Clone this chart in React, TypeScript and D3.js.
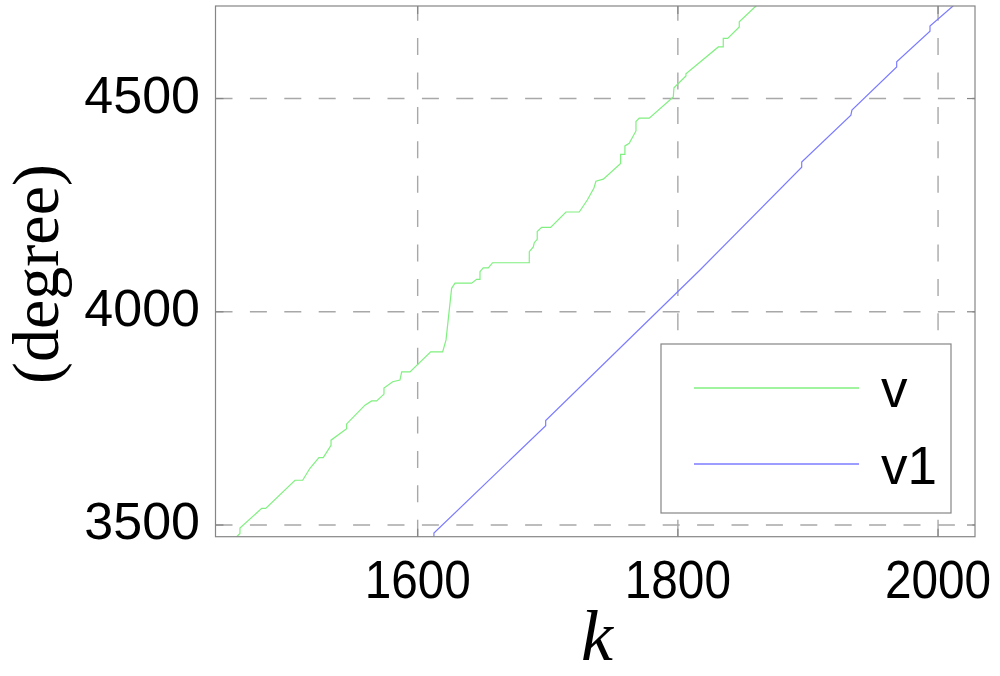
import * as d3 from 'd3';

// tick labels
const xTicks = [1600, 1800, 2000];
const yTicks = [3500, 4000, 4500];

// series "v" (green, stair-stepped)
const vK = [1458, 1463.4, 1463.4, 1480.1, 1483.2, 1505.7, 1511.6, 1517.2, 1524.1, 1527.4, 1533.4, 1533.4, 1545.4, 1545.4,
    1559.5, 1564.6, 1568.5, 1574.1, 1574.1, 1580.8, 1586.4, 1587.7, 1594.1, 1610, 1619.2, 1621.8, 1626.1, 1628.7,
    1641.5, 1645.3, 1647.9, 1647.9, 1650.4, 1654.3, 1657.6, 1685.8, 1685.8, 1688.9, 1689.6, 1691.9, 1691.9, 1695.3,
    1702.2, 1714, 1724.2, 1730.4, 1735.5, 1737, 1742.7, 1756, 1756, 1759.3, 1759.3, 1762.6, 1767.8, 1767.8, 1770.3,
    1778, 1796.5, 1797, 1806.2, 1806.2, 1831.1, 1834.9, 1834.9, 1838.3, 1847.2, 1847.2, 1860, 1865];
const vDeg = [3464, 3480, 3493, 3539, 3539, 3605, 3605, 3633, 3658, 3658, 3687, 3699, 3726, 3737,
    3781, 3791, 3791, 3807, 3821, 3836, 3840, 3859, 3859, 3906, 3906, 3934, 4055, 4067,
    4067, 4076, 4076, 4094, 4103, 4103, 4115, 4115, 4141, 4152, 4162, 4170, 4188, 4198,
    4198, 4234, 4234, 4262, 4290, 4306, 4311, 4348, 4369, 4369, 4389, 4395, 4424, 4446, 4454,
    4454, 4504, 4525, 4553, 4558, 4621, 4621, 4641, 4641, 4668, 4680, 4717, 4732];

// series "v1" (blue, nearly straight with small steps)
const v1K = [1612.5, 1612.5, 1698.4, 1698.4, 1817, 1895.2, 1895.2, 1933, 1933.8, 1968.2, 1968.2, 1993.8, 1993.8, 2011.5, 2016];
const v1Deg = [3471, 3481, 3733, 3745, 4098, 4339, 4351, 4461, 4473, 4574, 4586, 4658, 4670, 4717, 4731];

const legendNames = ['v', 'v1'];
const colors = ['#80f080', '#7c7cff'];

const W = 1000, H = 676;
const plot = { left: 215.5, top: 6, right: 975, bottom: 536.7 };

export default function App() {
    const x = d3.scaleLinear().domain([1444.6, 2028.4]).range([plot.left, plot.right]);
    const y = d3.scaleLinear().domain([3472.6, 4717]).range([plot.bottom, plot.top]);

    const line = d3.line<[number, number]>()
        .x(d => x(d[0]))
        .y(d => y(d[1]));

    const vData = vK.map((k, i) => [k, vDeg[i]] as [number, number]);
    const v1Data = v1K.map((k, i) => [k, v1Deg[i]] as [number, number]);

    const gridColor = '#a8a8a8';
    const axisColor = '#858585';
    const sans = '"Liberation Sans", Arial, sans-serif';
    const serif = '"Liberation Serif", "Times New Roman", serif';

    // legend box
    const lg = { x: 661, y: 344, w: 290, h: 169 };

    return (
        <svg width={W} height={H} style={{ position: 'absolute', left: 0, top: 0, background: '#fff' }}>
            <defs>
                <clipPath id="plotclip">
                    <rect x={plot.left} y={plot.top} width={plot.right - plot.left} height={plot.bottom - plot.top} />
                </clipPath>
            </defs>

            {/* grid */}
            {xTicks.map(t => (
                <line key={'gx' + t} x1={x(t)} x2={x(t)} y1={plot.bottom} y2={plot.top}
                    stroke={gridColor} strokeWidth={1.4} strokeDasharray="17,17.4" />
            ))}
            {yTicks.map(t => (
                <line key={'gy' + t} x1={plot.left} x2={plot.right} y1={y(t)} y2={y(t)}
                    stroke={gridColor} strokeWidth={1.4} strokeDasharray="17,17.4" />
            ))}

            {/* lines */}
            <g clipPath="url(#plotclip)">
                <path d={line(vData) ?? ''} fill="none" stroke={colors[0]} strokeWidth={1.2} />
                <path d={line(v1Data) ?? ''} fill="none" stroke={colors[1]} strokeWidth={1.2} />
            </g>

            {/* axes box and ticks */}
            <rect x={plot.left} y={plot.top} width={plot.right - plot.left} height={plot.bottom - plot.top}
                fill="none" stroke={axisColor} strokeWidth={1.2} />
            {xTicks.map(t => (
                <g key={'tx' + t}>
                    <line x1={x(t)} x2={x(t)} y1={plot.bottom} y2={plot.bottom - 8} stroke={axisColor} strokeWidth={1.2} />
                    <line x1={x(t)} x2={x(t)} y1={plot.top} y2={plot.top + 8} stroke={axisColor} strokeWidth={1.2} />
                    <text transform={`translate(${x(t)},598) scale(0.9,1)`} textAnchor="middle"
                        fontFamily={sans} fontSize={53} fill="#000">{t}</text>
                </g>
            ))}
            {yTicks.map(t => (
                <g key={'ty' + t}>
                    <line x1={plot.left} x2={plot.left + 8} y1={y(t)} y2={y(t)} stroke={axisColor} strokeWidth={1.2} />
                    <line x1={plot.right} x2={plot.right - 8} y1={y(t)} y2={y(t)} stroke={axisColor} strokeWidth={1.2} />
                    <text x={200} y={y(t) + 14} textAnchor="end"
                        fontFamily={sans} fontSize={52} fill="#000">{t}</text>
                </g>
            ))}

            {/* axis titles */}
            <text x={597} y={660} textAnchor="middle" fontFamily={serif} fontStyle="italic" fontSize={72} fill="#000">k</text>
            <text transform="translate(58,274) rotate(-90)" textAnchor="middle" fontFamily={serif} fontSize={66} fill="#000">(degree)</text>

            {/* legend */}
            <rect x={lg.x} y={lg.y} width={lg.w} height={lg.h} fill="#fff" stroke={axisColor} strokeWidth={1.2} />
            {legendNames.map((name, i) => (
                <g key={name}>
                    <line x1={694} x2={859} y1={388 + i * 76} y2={388 + i * 76} stroke={colors[i]} strokeWidth={1.4} />
                    <text x={881} y={407 + i * 77} fontFamily={sans} fontSize={53} fill="#000">{name}</text>
                </g>
            ))}
        </svg>
    );
}
